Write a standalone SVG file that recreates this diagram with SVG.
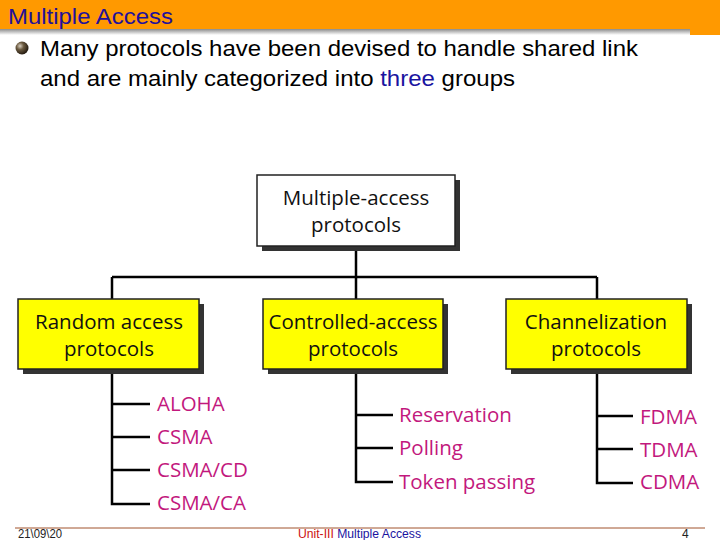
<svg xmlns="http://www.w3.org/2000/svg" width="720" height="540" viewBox="0 0 720 540">
<defs>
<radialGradient id="ball" cx="0.35" cy="0.35" r="0.7">
<stop offset="0" stop-color="#d8cfc0"/>
<stop offset="0.4" stop-color="#6b5a40"/>
<stop offset="1" stop-color="#1e160c"/>
</radialGradient>
<linearGradient id="edge" x1="0" y1="0" x2="0" y2="1">
<stop offset="0" stop-color="#8a8a8a"/>
<stop offset="1" stop-color="#ffffff"/>
</linearGradient>
</defs>
<style>
.hdr{font-family:"Liberation Sans",Arial,sans-serif;}
.box{stroke:#222;stroke-width:1.5;}
.shadow{fill:#333;}
.lbl{font-family:"Open Sans","Noto Sans",sans-serif;font-size:20.5px;fill:#111;text-anchor:middle;}
.item{font-family:"Open Sans","Noto Sans",sans-serif;font-size:20.5px;fill:#c2187d;}
.ln{stroke:#000;stroke-width:2.5;fill:none;}
.foot{font-family:"Liberation Sans",Arial,sans-serif;font-size:12px;}
</style>
<rect x="0" y="0" width="720" height="540" fill="#fff"/>
<rect x="0" y="0" width="720" height="31" fill="#ff9900"/>
<rect x="0" y="29" width="690" height="6" fill="url(#edge)"/>
<rect x="690" y="29" width="30" height="6" fill="#ff9900"/>
<text class="hdr" x="8" y="24" font-size="22" fill="#22109a" textLength="165" lengthAdjust="spacingAndGlyphs">Multiple Access</text>
<circle cx="22" cy="48" r="6.5" fill="url(#ball)"/>
<text class="hdr" x="40" y="56" font-size="22" fill="#000" textLength="598" lengthAdjust="spacingAndGlyphs">Many protocols have been devised to handle shared link</text>
<text class="hdr" x="40" y="86" font-size="22" fill="#000" textLength="475" lengthAdjust="spacingAndGlyphs">and are mainly categorized into <tspan fill="#1a14a0">three</tspan> groups</text>

<g id="connectors">
<path class="ln" d="M356 246V277M112 277H597M112 277V299M356 277V299M597 277V299"/>
<path class="ln" d="M112 369V504H150M112 404H150M112 437H150M112 470H150"/>
<path class="ln" d="M356 369V482H393M356 415H393M356 448H393"/>
<path class="ln" d="M597 369V483H633M597 416H633M597 449H633"/>
</g>

<g id="root">
<rect class="shadow" x="262" y="180" width="198" height="71"/>
<rect class="box" x="257" y="175" width="198" height="71" fill="#fff"/>
<text class="lbl" x="356" y="205">Multiple-access</text>
<text class="lbl" x="356" y="232">protocols</text>
</g>
<g id="random">
<rect class="shadow" x="23" y="304" width="181" height="70"/>
<rect class="box" x="18" y="299" width="181" height="70" fill="#ffff00"/>
<text class="lbl" x="109" y="329">Random access</text>
<text class="lbl" x="109" y="356">protocols</text>
</g>
<g id="controlled">
<rect class="shadow" x="268" y="304" width="180" height="70"/>
<rect class="box" x="263" y="299" width="180" height="70" fill="#ffff00"/>
<text class="lbl" x="353" y="329">Controlled-access</text>
<text class="lbl" x="353" y="356">protocols</text>
</g>
<g id="channel">
<rect class="shadow" x="511" y="304" width="181" height="70"/>
<rect class="box" x="506" y="299" width="181" height="70" fill="#ffff00"/>
<text class="lbl" x="596" y="329">Channelization</text>
<text class="lbl" x="596" y="356">protocols</text>
</g>

<g id="random-items">
<text class="item" x="157" y="411">ALOHA</text>
<text class="item" x="157" y="444">CSMA</text>
<text class="item" x="157" y="477">CSMA/CD</text>
<text class="item" x="157" y="510">CSMA/CA</text>
</g>
<g id="controlled-items">
<text class="item" x="399" y="422">Reservation</text>
<text class="item" x="399" y="455">Polling</text>
<text class="item" x="399" y="489">Token passing</text>
</g>
<g id="channel-items">
<text class="item" x="640" y="424">FDMA</text>
<text class="item" x="640" y="457">TDMA</text>
<text class="item" x="640" y="489">CDMA</text>
</g>

<line x1="15" y1="528" x2="705" y2="528" stroke="#a0522d" stroke-width="1"/>
<text class="foot" x="18" y="538" fill="#222" textLength="44" lengthAdjust="spacingAndGlyphs">21\09\20</text>
<text class="foot" x="298" y="538" textLength="123" lengthAdjust="spacingAndGlyphs"><tspan fill="#cc1111">Unit-III</tspan><tspan fill="#1a14a0"> Multiple Access</tspan></text>
<text class="foot" x="682" y="538" fill="#222">4</text>
</svg>
